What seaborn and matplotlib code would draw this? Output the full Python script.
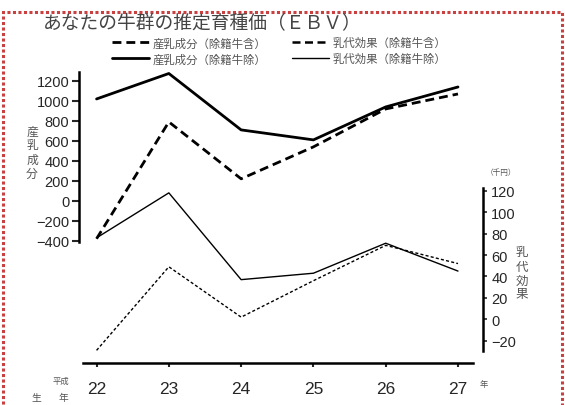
"""
Herd EBV chart (産乳成分 / 乳代効果)
"""
#------------------------------------------------------------------------------
# Libraries
#------------------------------------------------------------------------------

import numpy as np
import pandas as pd
import seaborn as sns
import matplotlib
matplotlib.use('Agg')
import matplotlib.pyplot as plt
from matplotlib import font_manager
from matplotlib.patches import Rectangle

#------------------------------------------------------------------------------
# Data
#------------------------------------------------------------------------------

years = [22, 23, 24, 25, 26, 27]
milk_incl = [-380, 790, 220, 540, 920, 1070]    # 産乳成分（除籍牛含）
milk_excl = [1020, 1275, 710, 610, 940, 1140]   # 産乳成分（除籍牛除）
eff_incl = [-29, 49, 2, 36, 69, 52]             # 乳代効果（除籍牛含）
eff_excl = [76, 118, 37, 43, 71, 45]            # 乳代効果（除籍牛除）

left_ticks = [-400, -200, 0, 200, 400, 600, 800, 1000, 1200]
right_ticks = [-20, 0, 20, 40, 60, 80, 100, 120]

labels = ['産乳成分（除籍牛含）', '産乳成分（除籍牛除）',
          '乳代効果（除籍牛含）', '乳代効果（除籍牛除）']

df = pd.DataFrame({'year': years, 'milk_incl': milk_incl, 'milk_excl': milk_excl,
                   'eff_incl': eff_incl, 'eff_excl': eff_excl})

#------------------------------------------------------------------------------
# Settings
#------------------------------------------------------------------------------

sns.set_theme(style='white')
jp = 'Noto Sans CJK JP'
plt.rcParams['font.family'] = ['Liberation Sans', 'DejaVu Sans']
installed = {f.name for f in font_manager.fontManager.ttflist}
if 'Liberation Sans Narrow' in installed:
    xfont, xsize = 'Liberation Sans Narrow', 14.5
else:
    xfont, xsize = 'Liberation Sans', 12.5

W, H = 565, 406
fig = plt.figure(figsize=(W / 100, H / 100), dpi=100)
fig.patch.set_facecolor('white')

# axes box in pixels: left 79, right 483, top 73, bottom 364
ax = fig.add_axes([79 / W, 1 - 364 / H, (483 - 79) / W, (364 - 73) / H])
ax2 = ax.twinx()

#------------------------------------------------------------------------------
# Lines
#------------------------------------------------------------------------------

sns.lineplot(data=df, x='year', y='milk_incl', ax=ax, color='black',
             linewidth=2.0, linestyle=(0, (3.2, 1.8)))
sns.lineplot(data=df, x='year', y='milk_excl', ax=ax, color='black',
             linewidth=2.0)
sns.lineplot(data=df, x='year', y='eff_incl', ax=ax2, color='black',
             linewidth=1.0, linestyle=(0, (2.2, 1.6)))
sns.lineplot(data=df, x='year', y='eff_excl', ax=ax2, color='black',
             linewidth=1.0)

#------------------------------------------------------------------------------
# Axes
#------------------------------------------------------------------------------

ax.set_xlim(21.757, 27.346)
ax.set_ylim(-1625, 1290)
ax2.set_ylim(-40.8, 230.8)

for a in (ax, ax2):
    a.set_xlabel('')
    a.set_ylabel('')
    for s in a.spines.values():
        s.set_visible(False)
    a.grid(False)
    a.set_facecolor('none')

ax.spines['left'].set_visible(True)
ax.spines['left'].set_bounds(-410, 1290)
ax.spines['bottom'].set_visible(True)
ax.spines['bottom'].set_bounds(21.81, 27.21)
ax2.spines['right'].set_visible(True)
ax2.spines['right'].set_bounds(-30, 123)
for s in (ax.spines['left'], ax.spines['bottom'], ax2.spines['right']):
    s.set_color('black')
    s.set_linewidth(1.8)

ax.set_xticks(years)
ax.set_xticklabels([str(y) for y in years], fontsize=xsize, family=xfont)
ax.set_yticks(left_ticks)
ax.set_yticklabels([str(v).replace('-', '−') for v in left_ticks], fontsize=10.5)
ax2.set_yticks(right_ticks)
ax2.set_yticklabels([str(v).replace('-', '−') for v in right_ticks], fontsize=10.5)

ax.tick_params(axis='y', left=True, direction='out', length=5, width=1.5, pad=2)
ax.tick_params(axis='x', bottom=True, direction='out', length=3, width=1.5, pad=10)
ax2.tick_params(axis='y', right=True, direction='out', length=3, width=1.2, pad=3)

#------------------------------------------------------------------------------
# Legend
#------------------------------------------------------------------------------

handles = ax.get_lines()[:2] + ax2.get_lines()[:2]
leg = fig.legend(handles, labels, ncol=2, loc='upper left',
                 bbox_to_anchor=(112 / W, 1 - 38 / H), frameon=False,
                 prop={'family': jp, 'size': 8.2}, handlelength=3.25,
                 handletextpad=0.3, columnspacing=2.3, labelspacing=0.42,
                 borderaxespad=0, borderpad=0)
for t in leg.get_texts():
    t.set_color('#555555')
# legend dashes for the thin line look like the thick ones in the original
leg.get_lines()[2].set_linewidth(1.8)
leg.get_lines()[2].set_linestyle((0, (3.2, 1.8)))

#------------------------------------------------------------------------------
# Texts
#------------------------------------------------------------------------------

fig.text(43 / W, 1 - 24 / H, 'あなたの牛群の推定育種価（ＥＢＶ）', family=jp,
         fontsize=13.5, color='#444444', ha='left', va='center')
fig.text(32 / W, 1 - 153 / H, '産\n乳\n成\n分', family=jp, fontsize=8.5,
         color='#555555', ha='center', va='center', linespacing=1.1)
fig.text(522 / W, 1 - 274 / H, '乳\n代\n効\n果', family=jp, fontsize=9,
         color='#555555', ha='center', va='center', linespacing=1.1)
fig.text(501 / W, 1 - 173 / H, '（千円）', family=jp, fontsize=5.5,
         color='#555555', ha='center', va='center')
fig.text(61 / W, 1 - 381 / H, '平成', family=jp, fontsize=6,
         color='#555555', ha='center', va='center')
fig.text(36 / W, 1 - 398 / H, '生', family=jp, fontsize=7,
         color='#555555', ha='center', va='center')
fig.text(63 / W, 1 - 398 / H, '年', family=jp, fontsize=7,
         color='#555555', ha='center', va='center')
fig.text(484 / W, 1 - 385 / H, '年', family=jp, fontsize=6,
         color='#555555', ha='center', va='center')

# red dotted frame of the original sheet
fig.patches.append(Rectangle((3 / W, -0.05), (562 - 3) / W, 1 - 13 / H + 0.05,
                             transform=fig.transFigure, fill=False,
                             edgecolor='#c84040', linewidth=2.2,
                             linestyle=(0, (1, 0.8))))

plt.savefig('out.png', dpi=100)

#------------------------------------------------------------------------------
# END
